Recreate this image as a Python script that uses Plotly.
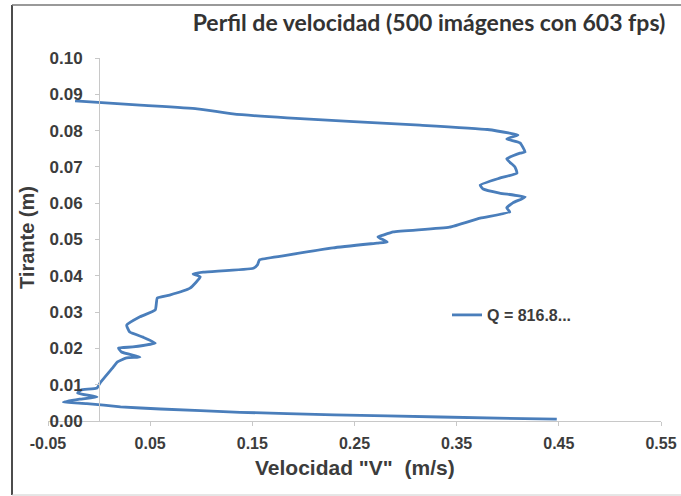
import plotly.graph_objects as go

# ---------------- data ----------------
velocidad = [0.448, 0.334, 0.230, 0.138, 0.060, 0.021, -0.012, -0.035, -0.019, -0.002,
             -0.021, -0.018, -0.002, 0.001, 0.014, 0.018, 0.027, 0.040, 0.022, 0.019,
             0.033, 0.055, 0.043, 0.030, 0.027, 0.040, 0.055, 0.057, 0.069, 0.089,
             0.099, 0.092, 0.102, 0.151, 0.155, 0.157, 0.180, 0.229, 0.272, 0.282,
             0.273, 0.278, 0.288, 0.343, 0.373, 0.402, 0.399, 0.405, 0.417, 0.392,
             0.376, 0.373, 0.392, 0.409, 0.407, 0.399, 0.412, 0.417, 0.412, 0.399,
             0.410, 0.402, 0.380, 0.314, 0.184, 0.131, 0.096, 0.040, -0.0235]
tirante = [0.0005, 0.0011, 0.0017, 0.0024, 0.0033, 0.0039, 0.0048, 0.0052, 0.0060, 0.0066,
           0.0077, 0.0085, 0.0091, 0.0105, 0.0149, 0.0163, 0.0174, 0.0176, 0.0190, 0.0201,
           0.0204, 0.0215, 0.0231, 0.0245, 0.0264, 0.0287, 0.0306, 0.0339, 0.0347, 0.0366,
           0.0397, 0.0405, 0.0410, 0.0421, 0.0430, 0.0444, 0.0455, 0.0477, 0.0490, 0.0493,
           0.0507, 0.0512, 0.0521, 0.0534, 0.0559, 0.0576, 0.0587, 0.0601, 0.0617, 0.0628,
           0.0639, 0.0650, 0.0669, 0.0683, 0.0700, 0.0722, 0.0738, 0.0741, 0.0766, 0.0777,
           0.0788, 0.0793, 0.0803, 0.0815, 0.0835, 0.0846, 0.0860, 0.0870, 0.0882]
serie_nombre = "Q = 816.8..."

x_tick_vals = [-0.05, 0.05, 0.15, 0.25, 0.35, 0.45, 0.55]
x_tick_text = ["-0.05", "0.05", "0.15", "0.25", "0.35", "0.45", "0.55"]
y_tick_vals = [0.00, 0.01, 0.02, 0.03, 0.04, 0.05, 0.06, 0.07, 0.08, 0.09, 0.10]
y_tick_text = ["0.00", "0.01", "0.02", "0.03", "0.04", "0.05", "0.06", "0.07", "0.08", "0.09", "0.10"]

titulo = "Perfil de velocidad (500 imágenes con 603 fps)"
titulo_x = 'Velocidad "V"  (m/s)'
titulo_y = "Tirante (m)"

# ---------------- layout geometry ----------------
W, H = 681, 496
ML, MR, MT, MB = 48, 20, 58, 75
PW, PH = W - ML - MR, H - MT - MB
X_RANGE = [-0.05, 0.55]
Y_RANGE = [0.0, 0.10]


def px_x(p):
    return (p - ML) / PW


def px_y(p):
    return (H - MB - p) / PH


yaxis_pos = (0 - X_RANGE[0]) / (X_RANGE[1] - X_RANGE[0])

SANS = "Liberation Sans, Arial, sans-serif"
tick_font = dict(family=SANS, size=17, color="#3c3c3c", weight="bold")
bold_font = dict(family=SANS, size=20, color="#3c3c3c", weight="bold")

fig = go.Figure()
fig.add_trace(go.Scatter(
    x=velocidad, y=tirante, mode="lines", name=serie_nombre,
    line=dict(color="#4A7EBB", width=2.8, shape="spline", smoothing=0.4),
    showlegend=True,
))

fig.update_layout(
    width=W, height=H,
    margin=dict(l=ML, r=MR, t=MT, b=MB, pad=0, autoexpand=False),
    paper_bgcolor="white", plot_bgcolor="white",
    title=dict(text=titulo,
               font=dict(family="Lato, Open Sans, sans-serif", size=23, color="#333333", weight="bold"),
               xref="container", x=429 / W, xanchor="center",
               yref="container", y=1 - 23 / H, yanchor="middle"),
    xaxis=dict(range=X_RANGE, tickvals=x_tick_vals, ticktext=x_tick_text, automargin=False,
               showgrid=False, zeroline=False, showline=True, linecolor="#C8C8C8", linewidth=1,
               ticks="outside", ticklen=4, tickcolor="#C8C8C8",
               tickfont=dict(tick_font, size=16), ticklabelstandoff=4),
    yaxis=dict(range=Y_RANGE, tickvals=y_tick_vals, ticktext=y_tick_text, automargin=False,
               anchor="free", position=yaxis_pos,
               showgrid=False, zeroline=False, showline=True, linecolor="#C8C8C8", linewidth=1,
               ticks="outside", ticklen=4, tickcolor="#C8C8C8",
               tickfont=tick_font, ticklabelstandoff=9),
    legend=dict(x=px_x(447), y=px_y(315), xanchor="left", yanchor="middle",
                bgcolor="rgba(0,0,0,0)",
                font=dict(family=SANS, size=16, color="#3c3c3c", weight="bold"),
                itemwidth=30),
    showlegend=True,
)

fig.add_annotation(text=titulo_x, xref="paper", yref="paper",
                   x=px_x(355), y=px_y(467), showarrow=False, font=dict(bold_font, size=21),
                   xanchor="center", yanchor="middle")
fig.add_annotation(text=titulo_y, xref="paper", yref="paper",
                   x=px_x(27), y=px_y(238), showarrow=False, font=bold_font, textangle=-90,
                   xanchor="center", yanchor="middle")

# outer frame of the original screenshot
fig.add_shape(type="line", xref="paper", yref="paper", x0=px_x(12), x1=px_x(12),
              y0=px_y(5), y1=px_y(495), line=dict(color="#111111", width=1.5))
fig.add_shape(type="line", xref="paper", yref="paper", x0=px_x(12), x1=px_x(690),
              y0=px_y(5), y1=px_y(5), line=dict(color="#777777", width=1.5))
fig.add_shape(type="line", xref="paper", yref="paper", x0=px_x(12), x1=px_x(690),
              y0=px_y(495), y1=px_y(495), line=dict(color="#CCCCCC", width=1))

fig.write_html("out.html", config={"displayModeBar": False},
               post_script="document.body.style.margin='0px';")
